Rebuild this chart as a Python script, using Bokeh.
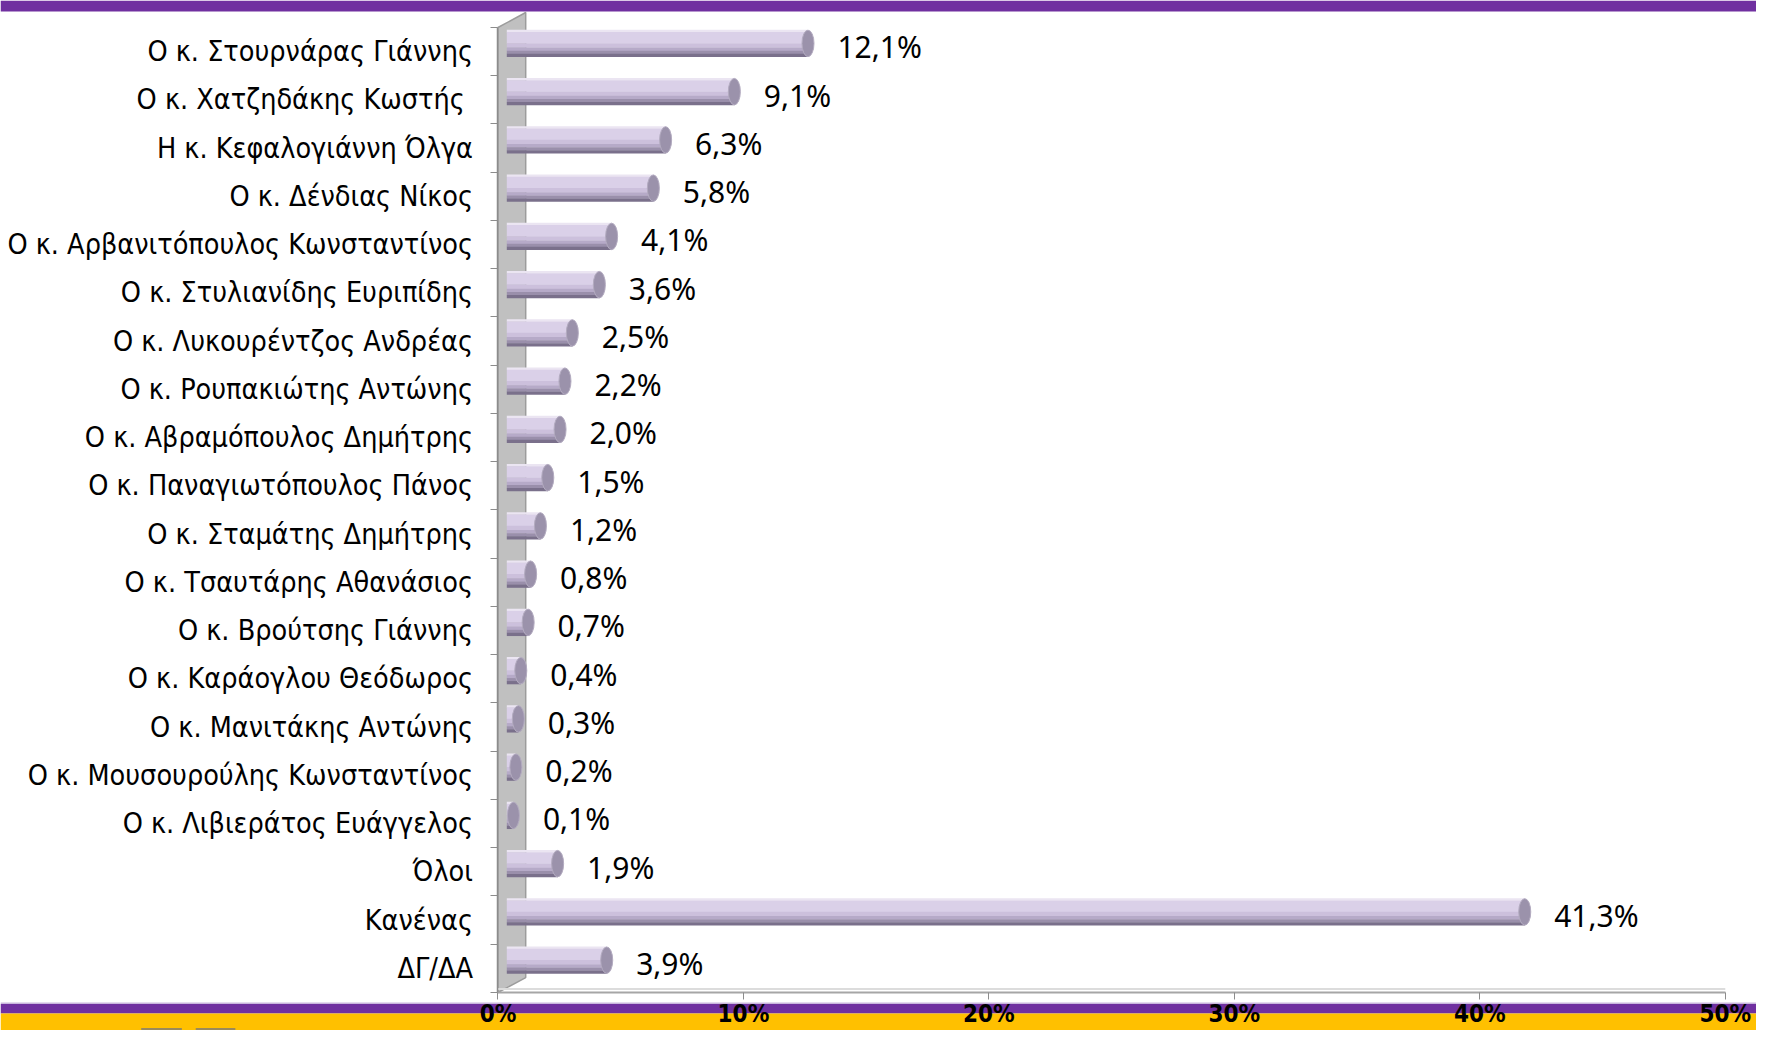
from bokeh.plotting import figure
from bokeh.models import Range1d, FixedTicker, ColumnDataSource
from bokeh.transform import dodge
from bokeh.embed import file_html
from bokeh.resources import INLINE
from bokeh.core.properties import value

# ---------------- data ----------------
categories = [
    "Ο κ. Στουρνάρας Γιάννης",
    "Ο κ.  Χατζηδάκης Κωστής",
    "Η κ. Κεφαλογιάννη Όλγα",
    "Ο κ. Δένδιας Νίκος",
    "Ο κ. Αρβανιτόπουλος Κωνσταντίνος",
    "Ο κ. Στυλιανίδης Ευριπίδης",
    "Ο κ. Λυκουρέντζος Ανδρέας",
    "Ο κ. Ρουπακιώτης Αντώνης",
    "Ο κ. Αβραμόπουλος Δημήτρης",
    "Ο κ. Παναγιωτόπουλος Πάνος",
    "Ο κ. Σταμάτης Δημήτρης",
    "Ο κ. Τσαυτάρης Αθανάσιος",
    "Ο κ. Βρούτσης Γιάννης",
    "Ο κ. Καράογλου Θεόδωρος",
    "Ο κ. Μανιτάκης Αντώνης",
    "Ο κ. Μουσουρούλης Κωνσταντίνος",
    "Ο κ. Λιβιεράτος Ευάγγελος",
    "Όλοι",
    "Κανένας",
    "ΔΓ/ΔΑ",
]
values = [12.1, 9.1, 6.3, 5.8, 4.1, 3.6, 2.5, 2.2, 2.0, 1.5,
          1.2, 0.8, 0.7, 0.4, 0.3, 0.2, 0.1, 1.9, 41.3, 3.9]
x_ticks = [0, 10, 20, 30, 40, 50]
x_tick_labels = ["0%", "10%", "20%", "30%", "40%", "50%"]

# ---------------- geometry / style ----------------
W, H = 1756, 1030
PX_PER_PCT = 24.77          # px per percent
X0_PX = 502.0               # px of 0 %
SLOT = 48.25                # px per category slot
Y0_PX = 51.1                # px of first slot centre
SPAN_W = 1772.0             # horizontal span shown across W

def ky(py):
    return (py - Y0_PX) / SLOT

def kx(px):
    return (px - X0_PX) / PX_PER_PCT

XMIN, XMAX = kx(0), kx(SPAN_W)
YTOP, YBOT = ky(0), ky(H)

FLOOR = ky(992)
WALL_DX = 1.13
WALL_DY = 0.31
BAR_START = 0.36
BAR_END = 0.53
BAR_SHIFT = 0.17
BAR_H = 0.56
LABEL_GAP = 1.2

LABEL_FONT = "'DejaVu Sans Condensed', 'DejaVu Sans', sans-serif"

p = figure(width=W, height=H,
           x_range=Range1d(XMIN, XMAX), y_range=Range1d(YBOT, YTOP),
           output_backend="svg", toolbar_location=None,
           min_border=0, outline_line_color=None,
           background_fill_color="white", border_fill_color="white")
p.grid.visible = False

# decorative bands
p.quad(left=XMIN, right=XMAX, top=ky(0), bottom=ky(11), fill_color="#7030a0", line_color=None)
p.quad(left=XMIN, right=XMAX, top=ky(1002), bottom=ky(1003.5), fill_color="#c9b6dd", line_color=None)
p.quad(left=XMIN, right=XMAX, top=ky(1003.5), bottom=ky(1013), fill_color="#7030a0", line_color=None)
p.quad(left=XMIN, right=XMAX, top=ky(1013), bottom=ky(H), fill_color="#ffc000", line_color=None)
p.quad(left=[kx(142), kx(197)], right=[kx(183), kx(237)], top=ky(1027.5), bottom=ky(H),
       fill_color="#9a8a5a", line_color=None)

# 3D side wall
p.patch(x=[0, WALL_DX, WALL_DX, 0],
        y=[-0.5, -0.5 - WALL_DY, FLOOR - WALL_DY, FLOOR],
        fill_color="#c0c0c0", line_color="#9c9c9c", line_width=1.5)

# floor light edge
p.line(x=[0, 50], y=[FLOOR - 0.07, FLOOR - 0.07], line_color="#dcdcdc", line_width=2)

# cylinders
idx = list(range(len(categories)))
src = ColumnDataSource(dict(
    y=[k - BAR_SHIFT for k in idx],
    right=[v + BAR_END for v in values],
    lx=[v + BAR_END + LABEL_GAP for v in values],
    ly=[k - 0.1 for k in idx],
    lab=[f"{v:.1f}".replace(".", ",") + "%" for v in values],
))

strips = [  # (from top fraction, to fraction, colour)
    (0.00, 0.08, "#ebe5f2"),
    (0.08, 0.50, "#dad0e8"),
    (0.50, 0.66, "#ccc0dc"),
    (0.66, 0.78, "#b6aac8"),
    (0.78, 0.89, "#9a8fab"),
    (0.89, 1.00, "#7a708b"),
]
for f0, f1, col in strips:
    off = -BAR_H / 2 + (f0 + f1) / 2 * BAR_H
    p.hbar(y=dodge("y", off, range=p.y_range), left=BAR_START, right="right",
           height=(f1 - f0) * BAR_H + 0.006, source=src,
           fill_color=col, line_color=None)

p.ellipse(x="right", y="y", width=12, height=BAR_H * 0.98, width_units="screen",
          source=src, fill_color="#9b92ab", line_color="#b3abc0", line_width=1)

# value labels
p.text(x="lx", y="ly", text="lab", source=src,
       text_font=value("Noto Sans"), text_font_size="30px",
       text_baseline="middle", text_align="left", text_color="black")

# x axis (floor)
xa = p.xaxis[0]
xa.fixed_location = FLOOR
xa.bounds = (0, 50)
xa.ticker = FixedTicker(ticks=x_ticks, minor_ticks=[])
xa.major_label_overrides = {t: l for t, l in zip(x_ticks, x_tick_labels)}
xa.axis_line_color = "#a6a6a6"
xa.axis_line_width = 2
xa.major_tick_line_color = "#8c8c8c"
xa.major_tick_out = 7
xa.major_tick_in = 0
xa.minor_tick_line_color = None
xa.major_label_standoff = 0
xa.major_label_text_font = LABEL_FONT
xa.major_label_text_font_style = "bold"
xa.major_label_text_font_size = "24px"
xa.major_label_text_color = "black"

# y axis (wall edge)
ya = p.yaxis[0]
ya.fixed_location = 0
ya.bounds = (-0.5, FLOOR)
ya.ticker = FixedTicker(ticks=idx, minor_ticks=[k - 0.5 for k in idx] + [FLOOR])
ya.major_label_overrides = {k: c for k, c in zip(idx, categories)}
ya.axis_line_color = "#8c8c8c"
ya.axis_line_width = 1.5
ya.major_tick_line_color = None
ya.major_tick_out = 0
ya.major_tick_in = 0
ya.minor_tick_line_color = "#8c8c8c"
ya.minor_tick_out = 7
ya.minor_tick_in = 0
ya.major_label_standoff = 18
ya.major_label_text_font = LABEL_FONT
ya.major_label_text_font_size = "28.5px"
ya.major_label_text_color = "black"

open("out.html", "w").write(file_html(p, INLINE))
